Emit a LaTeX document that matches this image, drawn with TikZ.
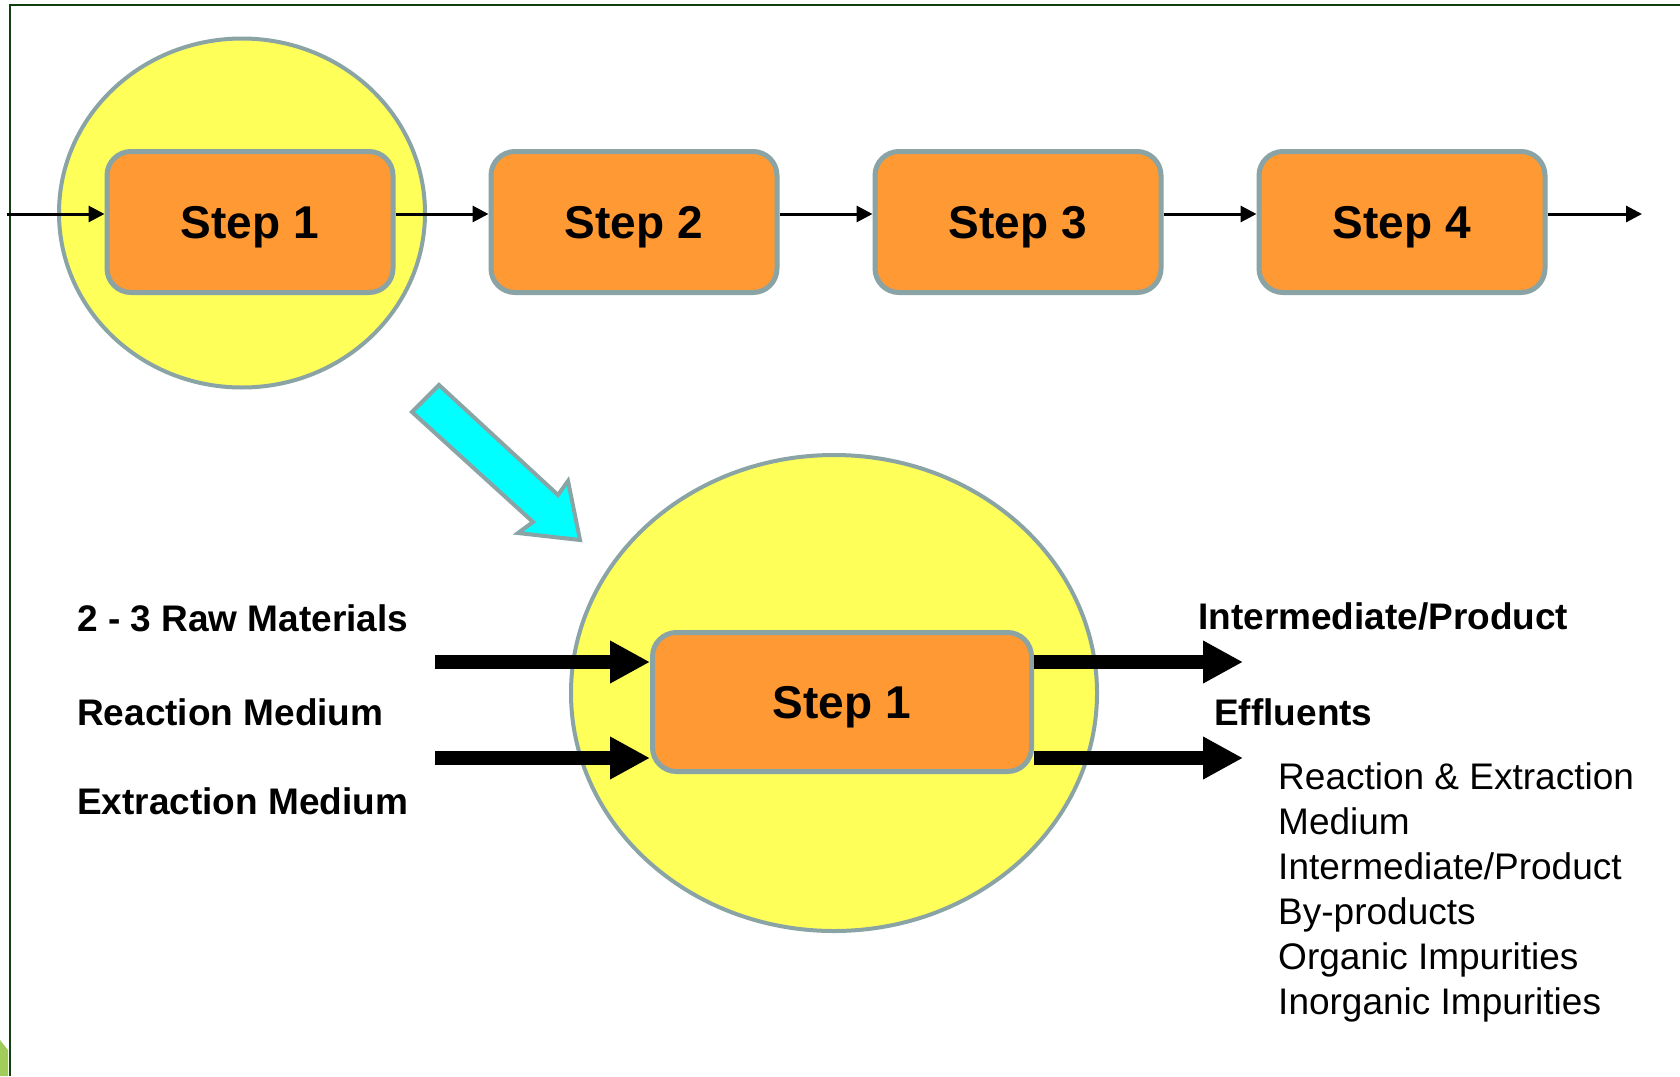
\documentclass[tikz,border=0pt]{standalone}
\usepackage{fontspec}
\setmainfont{Liberation Sans}
\usetikzlibrary{shapes.geometric,arrows.meta}
\definecolor{yel}{RGB}{255,255,90}
\definecolor{org}{RGB}{255,153,51}
\definecolor{edgec}{RGB}{138,164,166}
\definecolor{frm}{RGB}{16,64,16}
\definecolor{cyn}{RGB}{0,255,255}
\definecolor{leaf}{RGB}{160,205,90}
\begin{document}
\begin{tikzpicture}[x=1pt,y=-1pt,
  stepbox/.style={draw=edgec, fill=org, line width=5pt, rounded corners=24pt,
    minimum width=286pt, minimum height=141pt, inner sep=0pt,
    font=\fontsize{46}{55}\selectfont\bfseries, text depth=0pt},
  zoomcirc/.style={ellipse, draw=edgec, fill=yel, line width=4pt, inner sep=0pt},
  thinarrow/.style={line width=3pt, -{Triangle[length=16pt,width=16pt]}},
  thickarrow/.style={line width=14pt, -{Triangle[length=40pt,width=40pt]}},
  blbl/.style={font=\fontsize{37}{45}\selectfont\bfseries, inner sep=0pt, anchor=west},
  rlbl/.style={font=\fontsize{37}{45}\selectfont, inner sep=0pt, align=left, anchor=north west}]
\useasboundingbox (0,0) rectangle (1680,1076);
\fill[white] (0,0) rectangle (1680,1076);
% frame
\fill[leaf] (0,1040) -- (8,1050) -- (8,1076) -- (0,1076) -- cycle;
\draw[frm, line width=2.5pt] (10,1076) -- (10,5) -- (1680,5);
% circles
\node[zoomcirc, minimum width=366pt, minimum height=349pt] (c1) at (242,213) {};
\node[zoomcirc, minimum width=526pt, minimum height=476pt] (c2) at (834,693) {};
% top steps
\node[stepbox] (s1) at (250,222) {Step 1};
\node[stepbox] (s2) at (634,222) {Step 2};
\node[stepbox] (s3) at (1018,222) {Step 3};
\node[stepbox] (s4) at (1402,222) {Step 4};
\coordinate (tin) at (7,214);
\coordinate (tout) at (1642,214);
\draw[thinarrow] (tin) -- (s1.west |- tin);
\draw[thinarrow] (s1.east |- tin) -- (s2.west |- tin);
\draw[thinarrow] (s2.east |- tin) -- (s3.west |- tin);
\draw[thinarrow] (s3.east |- tin) -- (s4.west |- tin);
\draw[thinarrow] (s4.east |- tin) -- (tout);
% cyan arrow
\draw[edgec, fill=cyn, line width=4pt, line join=miter]
  (412,412) -- (439,385) -- (558,495) -- (568,481) -- (580,540) -- (518,533) -- (533,522) -- cycle;
% bottom step
\node[stepbox, minimum width=379pt, minimum height=139pt] (b1) at (842,702) {Step 1};
\coordinate (r1) at (435,662);
\coordinate (r2) at (435,758);
\coordinate (o1) at (1243,662);
\coordinate (o2) at (1243,758);
\draw[thickarrow] (r1) -- (b1.west |- r1);
\draw[thickarrow] (r2) -- (b1.west |- r2);
\draw[thickarrow] (b1.east |- o1) -- (o1);
\draw[thickarrow] (b1.east |- o2) -- (o2);
% labels
\node[blbl] (l1) at (77,618) {2 - 3 Raw Materials};
\node[blbl] (l2) at (77,712) {Reaction Medium};
\node[blbl] (l3) at (77,801) {Extraction Medium};
\node[blbl] (ip) at (1198,616) {Intermediate/Product};
\node[blbl] (ef) at (1214,712) {Effluents};
\node[rlbl] (lst) at (1278,762) {Reaction \& Extraction\\Medium\\Intermediate/Product\\By-products\\Organic Impurities\\Inorganic Impurities};
\end{tikzpicture}
\end{document}
